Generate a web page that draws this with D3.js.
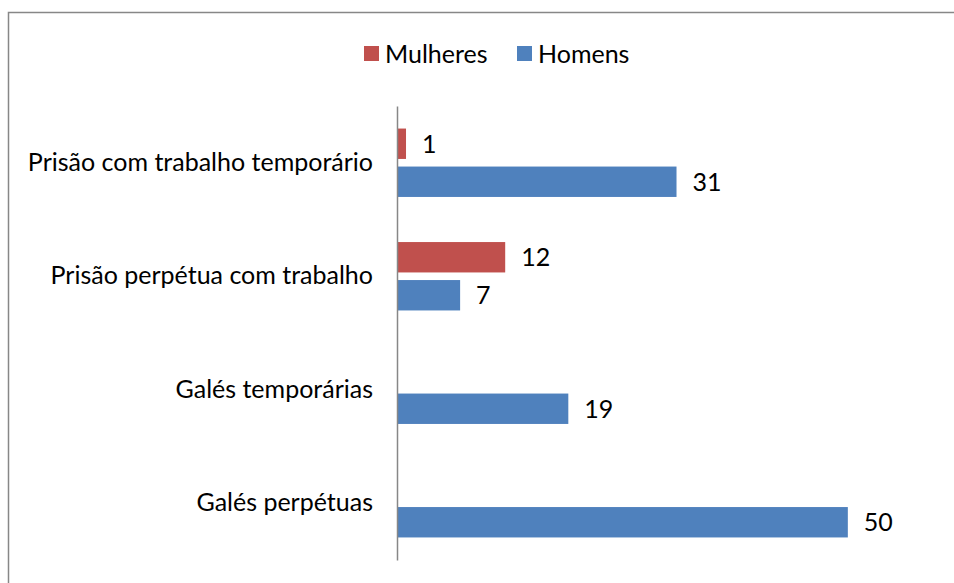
<!DOCTYPE html>
<html>
<head>
<meta charset="utf-8">
<script src="https://cdn.jsdelivr.net/npm/d3@7"></script>
<style>
  body { margin: 0; background: #fff; }
  text { font-family: Lato, "Open Sans", sans-serif; fill: #000; }
</style>
</head>
<body>
<div id="chart"></div>
<script>
// data
var categories = ["Prisão com trabalho temporário", "Prisão perpétua com trabalho", "Galés temporárias", "Galés perpétuas"];
var seriesNames = ["Mulheres", "Homens"];
var mulheres = [1, 12, null, null];
var homens = [31, 7, 19, 50];
var colors = ["#C0504D", "#4F81BD"];

var width = 954, height = 583;
var fontSize = 25;

var svg = d3.select("#chart")
  .append("svg")
    .attr("width", width)
    .attr("height", height);

// outer frame (right/bottom edges fall outside the picture)
svg.append("rect")
  .attr("x", 8.5)
  .attr("y", 12.5)
  .attr("width", width)
  .attr("height", height)
  .attr("fill", "none")
  .attr("stroke", "#878787")
  .attr("stroke-width", 1.5);

var x = d3.scaleLinear()
  .domain([0, 60])
  .range([397, 938]);

var y = d3.scaleBand()
  .domain(categories)
  .range([106, 560]);

// bars inside each group, relative to the group centre
var sub = d3.scaleBand()
  .domain(seriesNames)
  .range([-34.2, 34.2])
  .paddingInner(0.2);

var rows = categories.map(function(c, i) {
  return { cat: c, values: [mulheres[i], homens[i]] };
});

var groups = svg.selectAll(".group")
  .data(rows)
  .enter().append("g")
    .attr("transform", function(d) { return "translate(0," + (y(d.cat) + y.bandwidth() / 2) + ")"; });

var bars = groups.selectAll(".bar")
  .data(function(d) {
    return seriesNames.map(function(s, j) { return { series: s, value: d.values[j], color: colors[j] }; })
      .filter(function(e) { return e.value != null; });
  })
  .enter();

bars.append("rect")
  .attr("x", x(0))
  .attr("y", function(d) { return sub(d.series); })
  .attr("width", function(d) { return x(d.value) - x(0); })
  .attr("height", sub.bandwidth())
  .attr("fill", function(d) { return d.color; });

bars.append("text")
  .attr("x", function(d) { return x(d.value) + 16; })
  .attr("y", function(d) { return sub(d.series) + sub.bandwidth() / 2; })
  .attr("dy", "0.36em")
  .style("font-size", fontSize + "px")
  .text(function(d) { return d.value; });

// category axis: just the line and labels
var yAxis = svg.append("g")
  .attr("transform", "translate(" + x(0) + ",0)")
  .call(d3.axisLeft(y).tickSize(0).tickPadding(24));
yAxis.select(".domain")
  .attr("stroke", "#878787")
  .attr("stroke-width", 1.5);
yAxis.selectAll("text")
  .style("font-size", fontSize + "px")
  .style("font-family", "Lato, 'Open Sans', sans-serif")
  .attr("fill", "#000");

// legend
var legendItems = [
  { name: seriesNames[0], color: colors[0], x: 364 },
  { name: seriesNames[1], color: colors[1], x: 517 }
];
var legend = svg.selectAll(".legend")
  .data(legendItems)
  .enter().append("g")
    .attr("transform", function(d) { return "translate(" + d.x + ",46)"; });
legend.append("rect")
  .attr("width", 15)
  .attr("height", 15)
  .attr("fill", function(d) { return d.color; });
legend.append("text")
  .attr("x", 21)
  .attr("y", 7.5)
  .attr("dy", "0.36em")
  .style("font-size", fontSize + "px")
  .text(function(d) { return d.name; });
</script>
</body>
</html>
